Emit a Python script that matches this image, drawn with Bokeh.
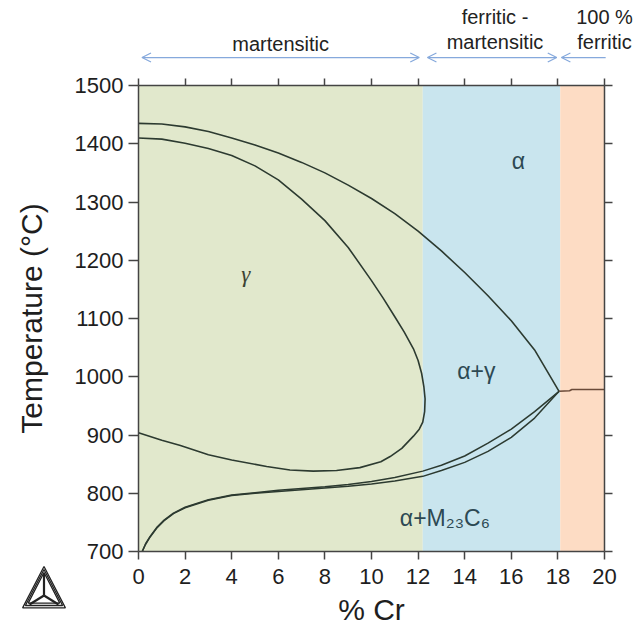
from bokeh.plotting import figure
from bokeh.models import (Range1d, LinearAxis, FixedTicker, Label, Arrow, OpenHead,
                          CustomJSTickFormatter)
from bokeh.embed import file_html
from bokeh.resources import INLINE

# ---------------- data ----------------
x_ticks = [0, 2, 4, 6, 8, 10, 12, 14, 16, 18, 20]
y_ticks = [700, 800, 900, 1000, 1100, 1200, 1300, 1400, 1500]

region_left = [0, 12.2, 18.1]
region_right = [12.2, 18.1, 20]
region_colors = ["#e1e8cc", "#c9e5ee", "#fddcc4"]

# alpha / (alpha+gamma) upper boundary
a_x = [0, 1, 2, 3, 4, 5, 6, 7, 8, 9, 10, 11, 12, 13, 14, 15, 16, 17, 18.05]
a_t = [1435, 1434, 1429, 1421, 1410, 1398, 1384, 1368, 1350, 1329, 1306, 1280,
       1250, 1216, 1179, 1139, 1096, 1046, 975]

# gamma loop (upper branch -> nose -> lower branch)
g_x = [0, 1, 2, 3, 4, 5, 6, 7, 8, 9, 10, 10.5, 11, 11.4, 11.8, 12.0, 12.15, 12.25,
       12.3, 12.28, 12.2, 12.05, 11.8, 11.3, 10.8, 10.4, 9.5, 8.5, 7.5, 6.5, 5.5,
       4, 3, 1.8, 1, 0]
g_t = [1410, 1408, 1401, 1392, 1380, 1362, 1338, 1305, 1268, 1222, 1165, 1135,
       1103, 1077, 1048, 1028, 1006, 982, 962, 940, 922, 910, 898, 877, 863, 854,
       844, 839, 838, 840, 846, 857, 866, 882, 891, 904]

# (alpha+gamma) / (alpha+M23C6) lower boundaries
c1_x = [0.16, 0.3, 0.5, 0.8, 1.1, 1.5, 2, 3, 4, 5, 6, 7, 8, 9, 10, 11, 12.2, 13,
        14, 15, 16, 17, 18.05]
c1_t = [700, 713, 726, 742, 754, 766, 776, 789, 797, 801, 805, 808, 811, 815, 820,
        827, 838, 848, 864, 886, 910, 940, 975]
c2_x = [0.16, 0.3, 0.5, 0.8, 1.1, 1.5, 2, 3, 4, 5, 6, 7, 8, 9, 10, 11, 12.2, 13,
        14, 15, 16, 17, 18.05]
c2_t = [700, 712, 725, 741, 753, 765, 775, 788, 796, 800, 803, 806, 809, 812, 816,
        821, 829, 839, 853, 872, 896, 929, 975]

# ferrite line above 18 % Cr
h_x = [18.05, 18.5, 18.6, 20]
h_t = [975, 976, 978, 978]

# phase labels: (text, x, T)
phase_labels = [("γ", 4.6, 1175), ("α", 16.3, 1370), ("α+γ", 14.5, 1010),
                ("α+M₂₃C₆", 13.15, 757)]

# top range annotations: (text, x, T)
top_texts = [("martensitic", 6.1, 1572), ("ferritic -", 15.3, 1617),
             ("martensitic", 15.3, 1575), ("100 %", 20.0, 1617),
             ("ferritic", 20.0, 1575)]
arrows = [(0.15, 12.05, True), (12.4, 17.95, True), (18.15, 20.05, False)]
arrow_t = 1548

# ---------------- figure ----------------
W, H = 640, 629
FX0, FY0 = 138, 85          # canvas pixel of (0 %, 1500 C)
SX, SY = 23.3, 0.5825       # px per unit
x_rng = Range1d(-FX0 / SX, (W - FX0) / SX)
y_rng = Range1d(1500 - (H - FY0) / SY, 1500 + FY0 / SY)

p = figure(width=W, height=H, output_backend="svg", toolbar_location=None,
           x_range=x_rng, y_range=y_rng, x_axis_location=None, y_axis_location=None,
           min_border=0, background_fill_color="white",
           border_fill_color="white", outline_line_color=None)
p.grid.visible = False

p.quad(left=region_left, right=region_right, bottom=700, top=1500,
       fill_color=region_colors, line_color=None)

line_col = "#2c3a30"
p.line(a_x, a_t, line_color=line_col, line_width=1.6)
p.line(g_x, g_t, line_color=line_col, line_width=1.6)
p.line(c1_x, c1_t, line_color=line_col, line_width=1.5)
p.line(c2_x, c2_t, line_color=line_col, line_width=1.5)
p.line(h_x, h_t, line_color="#6a4a38", line_width=1.6)

axis_col = "#444444"
font = "Liberation Sans"

def make_axis(ticks, loc, bounds, tick_out, labels=True):
    ax = LinearAxis(ticker=FixedTicker(ticks=ticks), fixed_location=loc, bounds=bounds)
    ax.axis_line_color = axis_col
    ax.axis_line_width = 1.5
    ax.major_tick_line_color = axis_col
    ax.major_tick_line_width = 1.5
    ax.major_tick_in = 0
    ax.major_tick_out = tick_out
    ax.minor_tick_line_color = None
    ax.major_label_text_font = font
    ax.major_label_text_font_size = "22px"
    ax.major_label_text_color = "#1e1e1e"
    ax.axis_label_text_font = font
    ax.axis_label_text_font_size = "30px"
    ax.axis_label_text_font_style = "normal"
    ax.axis_label_text_color = "#1e1e1e"
    if not labels:
        ax.formatter = CustomJSTickFormatter(code="return ''")
    return ax

xa = make_axis(x_ticks, 700, (0, 20), 8)
xa.major_label_standoff = 9
xa.axis_label = "% Cr"
xa.axis_label_standoff = 6
p.add_layout(xa, "below")

ya = make_axis(y_ticks, 0, (700, 1500), 10)
ya.major_label_standoff = 5
ya.axis_label = "Temperature (°C)"
ya.axis_label_standoff = 24
p.add_layout(ya, "left")

top = make_axis(x_ticks, 1500, (0, 20), 7, labels=False)
p.add_layout(top, "above")

right = make_axis(y_ticks, 20, (700, 1500), 8, labels=False)
p.add_layout(right, "right")

for txt, x, t in phase_labels:
    col = "#3c4434" if x < 12.2 else "#2d4953"
    fnt = "Liberation Serif" if txt == "γ" else font
    style = "italic" if txt == "γ" else "normal"
    p.add_layout(Label(x=x, y=t, text=txt, text_font=fnt, text_font_size="23px",
                       text_font_style=style, text_color=col, text_align="center",
                       text_baseline="middle"))

for txt, x, t in top_texts:
    p.add_layout(Label(x=x, y=t, text=txt, text_font=font, text_font_size="20px",
                       text_color="#222222", text_align="center",
                       text_baseline="middle"))

arrow_col = "#86a9dc"
for x0, x1, both in arrows:
    p.add_layout(Arrow(x_start=x0, y_start=arrow_t, x_end=x1, y_end=arrow_t,
                       line_color=arrow_col, line_width=1.3,
                       end=OpenHead(size=9, line_color=arrow_col, line_width=1.3) if both else None,
                       start=OpenHead(size=9, line_color=arrow_col, line_width=1.3)))

# Thermo-Calc style logo (decorative, placed by canvas pixels)
def to_data(px, py):
    return (px - FX0) / SX, 1500 - (py - FY0) / SY

def tri(cx, cy, r):
    pts = [(cx, cy - r), (cx - r * 0.93, cy + r * 0.8), (cx + r * 0.93, cy + r * 0.8), (cx, cy - r)]
    return [to_data(a, b) for a, b in pts]

for r in (23, 20, 17):
    pts = tri(43.5, 589, r)
    p.line([q[0] for q in pts], [q[1] for q in pts], line_color="#222222", line_width=1.3)
cen = to_data(43.5, 595)
for vx, vy in [(43.5, 573), (29, 604), (58, 604)]:
    b = to_data(vx, vy)
    p.line([cen[0], b[0]], [cen[1], b[1]], line_color="#222222", line_width=2.2)

open("out.html", "w").write(file_html(p, INLINE))
